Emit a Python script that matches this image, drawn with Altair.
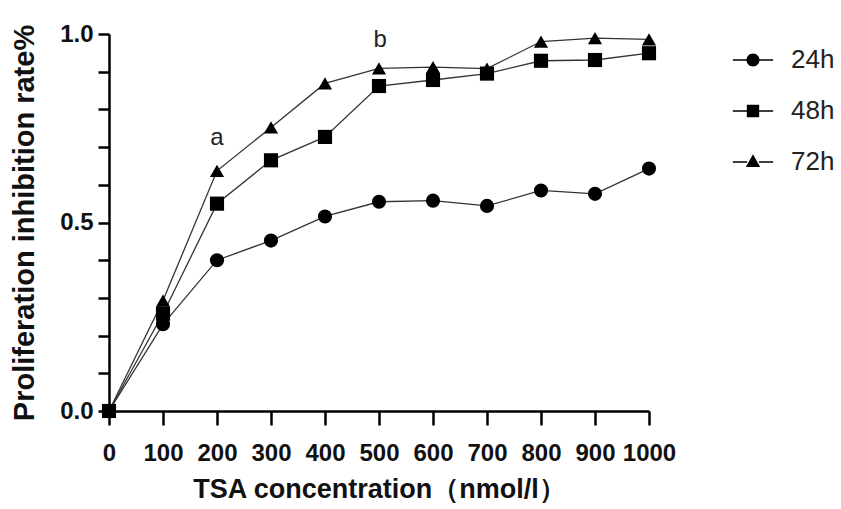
import altair as alt
import pandas as pd

conc = [0, 100, 200, 300, 400, 500, 600, 700, 800, 900, 1000]
h24 = [0, 0.23, 0.40, 0.452, 0.516, 0.555, 0.558, 0.544, 0.585, 0.576, 0.643]
h48 = [0, 0.258, 0.55, 0.665, 0.727, 0.862, 0.878, 0.895, 0.929, 0.931, 0.949]
h72 = [0, 0.293, 0.637, 0.752, 0.869, 0.909, 0.912, 0.908, 0.980, 0.989, 0.986]
series_names = ["24h", "48h", "72h"]

ann_label = ["a", "b"]
ann_x = [200, 502]
ann_y = [0.725, 0.985]

x_ticks = conc
y_ticks = [0.0, 0.1, 0.2, 0.3, 0.4, 0.5, 0.6, 0.7, 0.8, 0.9, 1.0]
y_labelled = ["0.0", "0.5", "1.0"]

rows = []
for name, vals in zip(series_names, [h24, h48, h72]):
    for c, v in zip(conc, vals):
        rows.append({"conc": c, "rate": v, "series": name})
df = pd.DataFrame(rows)
ann = pd.DataFrame({"label": ann_label, "conc": ann_x, "rate": ann_y})

FONT = "Liberation Sans"

xscale = alt.Scale(domain=[0, 1000], nice=False, zero=False)
yscale = alt.Scale(domain=[0, 1.0], nice=False)

label_list = "[" + ",".join("'" + s + "'" for s in y_labelled) + "]"
y_label_expr = ("indexof(" + label_list + ", format(datum.value, '.1f')) >= 0"
                " ? format(datum.value, '.1f') : ''")

x_axis = alt.Axis(values=x_ticks, format="d", title="TSA concentration（nmol/l）",
                  labelOverlap=False, labelFlush=False, grid=False,
                  tickSize=14, labelFontSize=24, labelFontWeight="bold", labelPadding=16,
                  titleFontSize=27, titleFontWeight="bold", titlePadding=11)
y_axis = alt.Axis(values=y_ticks, title="Proliferation inhibition rate%",
                  labelExpr=y_label_expr,
                  labelOverlap=False, labelFlush=False, grid=False,
                  tickSize=11, labelFontSize=24, labelFontWeight="bold", labelPadding=5,
                  titleFontSize=29, titleFontWeight="bold", titlePadding=20)

base = alt.Chart(df)

lines = base.mark_line(color="#333", strokeWidth=1.3).encode(
    x=alt.X("conc:Q", scale=xscale, axis=x_axis),
    y=alt.Y("rate:Q", scale=yscale, axis=y_axis),
    detail="series:N",
)

points = base.mark_point(filled=True, color="black", opacity=1, size=200, clip=False).encode(
    x=alt.X("conc:Q", scale=xscale, axis=x_axis),
    y=alt.Y("rate:Q", scale=yscale, axis=y_axis),
    shape=alt.Shape("series:N",
                    scale=alt.Scale(domain=series_names, range=["circle", "square", "triangle-up"]),
                    legend=None),
)

legend_paths = [
    "M-3.1,-0.12H-0.9V0.12H-3.1ZM0.9,-0.12H3.1V0.12H0.9ZM1,0A1,1,0,1,1,-1,0A1,1,0,1,1,1,0Z",
    "M-3.1,-0.12H-0.9V0.12H-3.1ZM0.9,-0.12H3.1V0.12H0.9ZM-0.95,-0.95H0.95V0.95H-0.95Z",
    "M-3.1,-0.12H-0.9V0.12H-3.1ZM0.9,-0.12H3.1V0.12H0.9ZM0,-1.2L1.1,0.75H-1.1Z",
]

legend_layer = base.mark_point(filled=True, color="black").encode(
    x=alt.X("conc:Q", scale=xscale, axis=x_axis),
    y=alt.Y("rate:Q", scale=yscale, axis=y_axis),
    shape=alt.Shape(
        "series:N",
        scale=alt.Scale(domain=series_names, range=legend_paths),
        legend=alt.Legend(
            title=None, orient="none", legendX=631, legendY=13,
            symbolSize=169, labelFontSize=26, labelFont=FONT, labelColor="#222",
            labelOffset=25, rowPadding=25,
            symbolFillColor="black", symbolOpacity=1,
        ),
    ),
).transform_filter("datum.conc > 5000")

texts = alt.Chart(ann).mark_text(fontSize=24, font=FONT, color="#222", baseline="middle").encode(
    x=alt.X("conc:Q", scale=xscale, axis=x_axis),
    y=alt.Y("rate:Q", scale=yscale, axis=y_axis),
    text="label:N",
)

chart = alt.layer(lines, points, legend_layer, texts).resolve_scale(
    shape="independent"
).properties(
    width=540, height=377,
    padding={"left": 109, "top": 34, "right": 192, "bottom": 98},
    autosize=alt.AutoSizeParams(type="none"),
    background="white",
).configure_view(stroke=None).configure_axis(
    domainColor="black", tickColor="black", domainWidth=2.5, tickWidth=2.5,
    labelColor="#111", titleColor="#111", labelFont=FONT, titleFont=FONT,
)

chart.save("out.html", embed_options={"renderer": "svg", "actions": False})
